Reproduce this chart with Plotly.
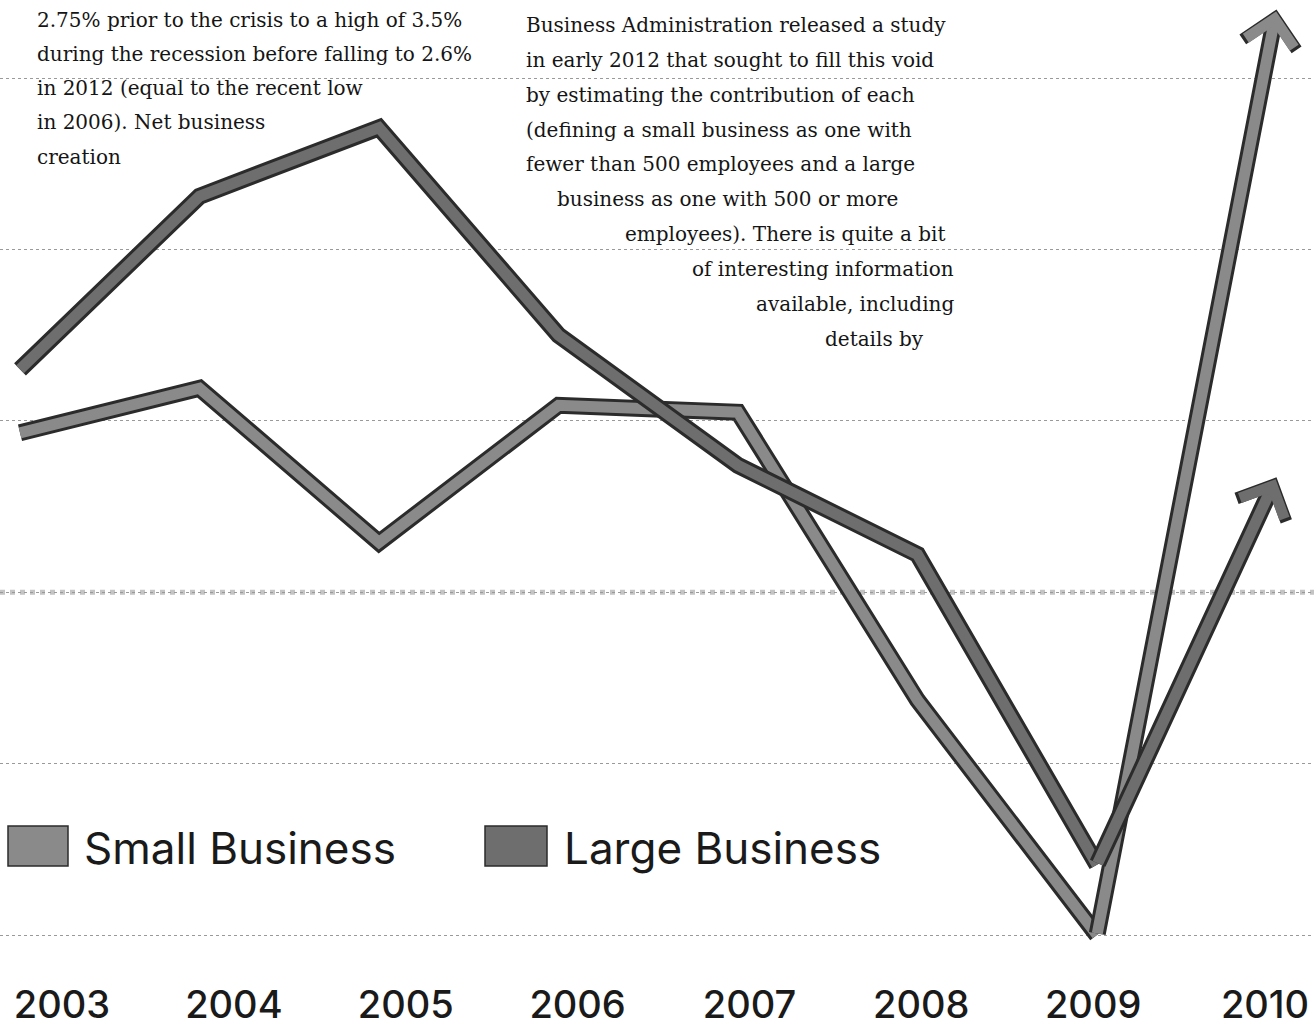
import plotly.graph_objects as go

# ---------------- data ----------------
years = [2003, 2004, 2005, 2006, 2007, 2008, 2009, 2010]
year_labels = ["2003", "2004", "2005", "2006", "2007", "2008", "2009", "2010"]
large_business = [3.30, 4.31, 4.71, 3.50, 2.74, 2.22, 0.41, 2.67]
small_business = [2.93, 3.19, 2.29, 3.09, 3.05, 1.37, 0.00, 5.40]

left_text = [
    "2.75% prior to the crisis to a high of 3.5%",
    "during the recession before falling to 2.6%",
    "in 2012 (equal to the recent low",
    "in 2006). Net business",
    "creation",
]
right_text = [
    "Business Administration released a study",
    "in early 2012 that sought to fill this void",
    "by estimating the contribution of each",
    "(defining a small business as one with",
    "fewer than 500 employees and a large",
    "business as one with 500 or more",
    "employees). There is quite a bit",
    "of interesting information",
    "available, including",
    "details by",
]

# ---------------- layout geometry ----------------
W, H = 1314, 1028
PLOT_TOP, PLOT_BOTTOM = 0, 965
OUTLINE = "#2b2b2b"
SMALL_FILL = "#8a8a8a"
LARGE_FILL = "#6e6e6e"
X_STEP = 179.5       # pixels per year for the data axis
X0_PX = 20           # pixel of 2003 on the data axis
LBL_STEP = 171.86    # pixels per year for the label axis
LBL0_PX = 62


def px_x(p):
    return p / W


def px_y(p):
    return (PLOT_BOTTOM - p) / (PLOT_BOTTOM - PLOT_TOP)


fig = go.Figure()

series = [
    ("Small Business", small_business, SMALL_FILL),
    ("Large Business", large_business, LARGE_FILL),
]

for name, vals, fill in series:
    # last segment (to 2010) is drawn as an arrow annotation
    fig.add_trace(go.Scatter(
        x=years[:-1], y=vals[:-1], mode="lines",
        line=dict(color=OUTLINE, width=17), showlegend=False, hoverinfo="skip",
    ))
    fig.add_trace(go.Scatter(
        x=years[:-1], y=vals[:-1], mode="lines", name=name,
        line=dict(color=fill, width=11), showlegend=False,
    ))

# invisible trace for the year-label axis
fig.add_trace(go.Scatter(x=years, y=[None] * len(years), xaxis="x2",
                         showlegend=False, hoverinfo="skip"))

annotations = []
for name, vals, fill in series:
    annotations.append(dict(
        x=years[-1], y=vals[-1], ax=years[-2], ay=vals[-2],
        xref="x", yref="y", axref="x", ayref="y", text="",
        showarrow=True, arrowhead=4, arrowwidth=17, arrowsize=0.62,
        arrowcolor=OUTLINE, standoff=0,
    ))
    annotations.append(dict(
        x=years[-1], y=vals[-1], ax=years[-2], ay=vals[-2],
        xref="x", yref="y", axref="x", ayref="y", text="",
        showarrow=True, arrowhead=4, arrowwidth=11, arrowsize=0.86,
        arrowcolor=fill, standoff=2,
    ))

text_font = dict(family="DejaVu Serif", size=20, color="#151515")
left_y = [20, 54, 88, 122, 157]
for t, yy in zip(left_text, left_y):
    annotations.append(dict(text=t, x=px_x(35), y=px_y(yy), xref="paper", yref="paper",
                            xanchor="left", yanchor="middle", showarrow=False, font=text_font))
right_x = [524, 524, 524, 524, 524, 555, 623, 690, 754, 823]
right_y = [25, 60, 95, 130, 164, 199, 234, 269, 304, 339]
for t, xx, yy in zip(right_text, right_x, right_y):
    annotations.append(dict(text=t, x=px_x(xx), y=px_y(yy), xref="paper", yref="paper",
                            xanchor="left", yanchor="middle", showarrow=False, font=text_font))

legend_font = dict(family="Inter", size=44, color="#1a1a1a")
shapes = []
for (name, vals, fill), sx0, sx1, tx in zip(series, [8, 485], [68, 547], [82, 562]):
    shapes.append(dict(type="rect", xref="paper", yref="paper",
                       x0=px_x(sx0), x1=px_x(sx1), y0=px_y(866), y1=px_y(826),
                       fillcolor=fill, line=dict(color=OUTLINE, width=1.5)))
    annotations.append(dict(text=name, x=px_x(tx), y=px_y(848), xref="paper", yref="paper",
                            xanchor="left", yanchor="middle", showarrow=False, font=legend_font))

# heavier speckled gridline
shapes.append(dict(type="line", xref="paper", yref="y", x0=0, x1=1, y0=2, y1=2,
                   line=dict(color="#c4c4c4", width=5, dash="dot"), layer="below"))

unit = 171.4
fig.update_layout(
    width=W, height=H,
    margin=dict(l=0, r=0, t=PLOT_TOP, b=H - PLOT_BOTTOM, autoexpand=False),
    paper_bgcolor="white", plot_bgcolor="white",
    showlegend=False,
    xaxis=dict(range=[2003 - X0_PX / X_STEP, 2003 + (W - X0_PX) / X_STEP], automargin=False,
               showticklabels=False, showgrid=False, zeroline=False, showline=False),
    xaxis2=dict(range=[2003 - LBL0_PX / LBL_STEP, 2003 + (W - LBL0_PX) / LBL_STEP],
                automargin=False, overlaying="x", anchor="y", side="bottom",
                tickmode="array", tickvals=years, ticktext=year_labels,
                showgrid=False, zeroline=False, showline=False, ticks="",
                ticklabelstandoff=14,
                tickfont=dict(family="Inter", size=38, color="#1a1a1a", weight=500)),
    yaxis=dict(range=[(935 - PLOT_BOTTOM) / unit, 935 / unit], automargin=False,
               tick0=0, dtick=1, showticklabels=False, zeroline=False,
               showgrid=True, gridcolor="#9a9a9a", gridwidth=1, griddash="dot"),
    annotations=annotations,
    shapes=shapes,
)

fig.write_html("out.html", config={"displayModeBar": False},
               post_script="document.body.style.margin='0px';document.body.style.padding='0px';")
